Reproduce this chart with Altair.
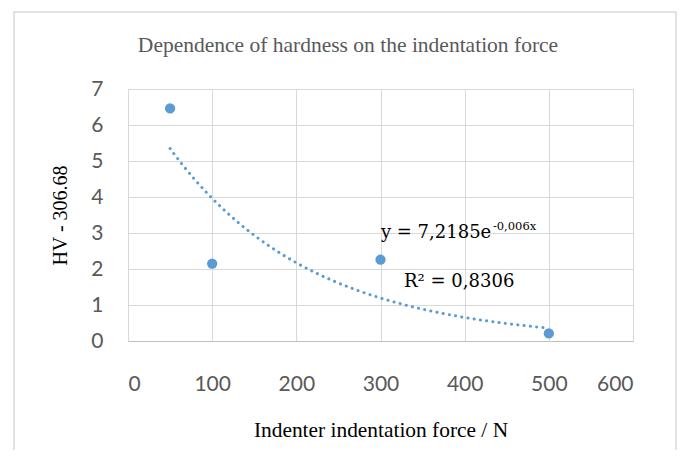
import altair as alt
import pandas as pd

force = [50, 100, 300, 500]
hv = [6.46, 2.15, 2.26, 0.21]

# Exponential trendline as stated on the chart: y = 7.2185 e^(-0.006 x)
trend_a = 7.2185
trend_b = -0.006
trend_start, trend_stop = 50, 500

x_ticks = [0, 100, 200, 300, 400, 500, 600]
y_ticks = [0, 1, 2, 3, 4, 5, 6, 7]

eq_main = "y = 7,2185e"
eq_sup = "-0,006x"
r2_text = "R² = 0,8306"

title_text = "Dependence of hardness on the indentation force"
x_title = "Indenter indentation force / N"
y_title = "HV - 306.68"

BLUE = "#5B9BD5"
W, H = 505, 252

df = pd.DataFrame({"force": force, "hv": hv})

xscale = alt.Scale(domain=[0, 600], nice=False, zero=False)
yscale = alt.Scale(domain=[0, 7], nice=False, zero=False)

xaxis = alt.Axis(values=x_ticks, title=x_title, grid=True, gridColor="#d9d9d9",
                 ticks=False, domain=True, domainColor="#bfbfbf", domainWidth=1.2,
                 labelFont="Lato", labelFontSize=21, labelColor="#595959", labelOverlap=False,
                 labelPadding=32, titleFont="Liberation Serif", titleFontSize=21.4,
                 titleFontWeight="normal", titleColor="#000000", titlePadding=25)
yaxis = alt.Axis(values=y_ticks, title=y_title, grid=True, gridColor="#d9d9d9",
                 ticks=False, domain=False, labelOverlap=False,
                 labelFont="Lato", labelFontSize=21, labelColor="#595959",
                 labelPadding=25, titleFont="Liberation Serif", titleFontSize=20,
                 titleFontWeight="normal", titleColor="#000000", titlePadding=20)

X = lambda f: alt.X(f, type="quantitative", scale=xscale, axis=xaxis)
Y = lambda f: alt.Y(f, type="quantitative", scale=yscale, axis=yaxis)

frame = alt.Chart(pd.DataFrame({"k": [0]})).mark_rect(
    fill=None, stroke="#d9d9d9", strokeWidth=1.5
).encode(x=alt.value(-114), x2=alt.value(548), y=alt.value(-77), y2=alt.value(500))

title = alt.Chart(pd.DataFrame({"k": [0]})).mark_text(
    align="center", baseline="alphabetic", font="Liberation Serif", fontSize=21.5, color="#595959"
).encode(x=alt.value(220), y=alt.value(-37), text=alt.value(title_text))

points = alt.Chart(df).mark_circle(size=105, color=BLUE, opacity=1).encode(
    x=X("force"), y=Y("hv"),
)

trend = alt.Chart(alt.sequence(trend_start, trend_stop + 0.1, 5, as_="force")).transform_calculate(
    hv=f"{trend_a} * exp({trend_b} * datum.force)"
).mark_line(color=BLUE, strokeWidth=3, strokeDash=[0.1, 6.2], strokeCap="round").encode(
    x=X("force"), y=Y("hv"),
)

ann = pd.DataFrame({"force": [300.5], "hv": [2.86]})
eq1 = alt.Chart(ann).mark_text(align="left", baseline="alphabetic", font="DejaVu Serif",
                               fontSize=18, color="#000000").encode(
    x=X("force"), y=Y("hv"), text=alt.value(eq_main))
eq2 = alt.Chart(ann).mark_text(align="left", baseline="alphabetic", font="DejaVu Serif",
                               fontSize=11.5, color="#000000", dx=112, dy=-8).encode(
    x=X("force"), y=Y("hv"), text=alt.value(eq_sup))
ann2 = pd.DataFrame({"force": [328], "hv": [1.51]})
r2 = alt.Chart(ann2).mark_text(align="left", baseline="alphabetic", font="DejaVu Serif",
                               fontSize=18, color="#000000").encode(
    x=X("force"), y=Y("hv"), text=alt.value(r2_text))

chart = alt.layer(frame, title, trend, points, eq1, eq2, r2).properties(
    width=W, height=H,
    autosize=alt.AutoSizeParams(type="none"),
    padding={"left": 120, "top": 81, "right": 45, "bottom": 109},
).configure_view(stroke=None).configure(background="white")

chart.save("out.html", embed_options={"renderer": "svg", "actions": False})
